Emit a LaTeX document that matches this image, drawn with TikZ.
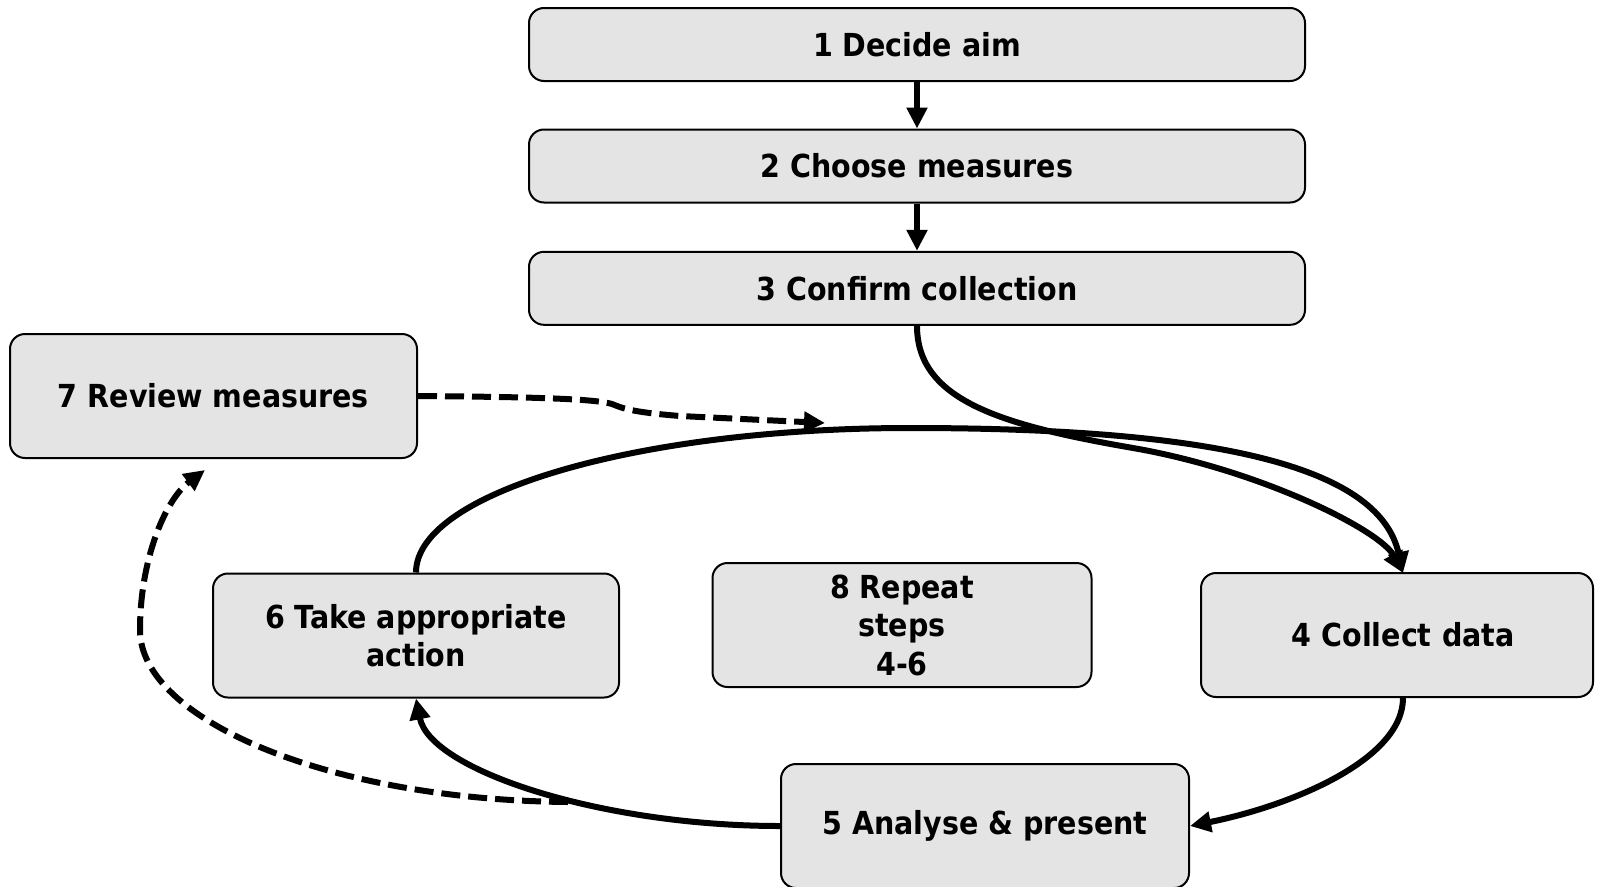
\documentclass[tikz,border=0pt]{standalone}
\usepackage{fontspec}
\IfFontExistsTF{DejaVu Sans Condensed}{%
  \setmainfont{DejaVu Sans Condensed}%
  \newcommand\boxfontsize{\fontsize{31.7}{38.5}\selectfont}}{%
  \setmainfont{DejaVu Sans}%
  \newcommand\boxfontsize{\fontsize{28.5}{38.5}\selectfont}}
\usetikzlibrary{arrows.meta}
\definecolor{boxfill}{RGB}{228,228,228}
\tikzset{
  stepbox/.style={draw=black, line width=2pt, fill=boxfill, rounded corners=15pt,
    font=\boxfontsize\bfseries, align=center, inner sep=0pt},
  widebox/.style={stepbox, minimum width=776pt, minimum height=73pt},
  flow/.style={line width=6pt, -{Triangle[length=21pt,width=20pt]}},
  dflow/.style={flow, dash pattern=on 19pt off 8pt},
}
\begin{document}
\begin{tikzpicture}[x=1pt,y=-1pt]
\useasboundingbox (0,0) rectangle (1597,886);
\node[widebox] (n1) at (917,44.5) {1 Decide aim};
\node[widebox] (n2) at (917,166) {2 Choose measures};
\node[widebox] (n3) at (917,288.3) {3 Confirm collection};
\node[stepbox, minimum width=407pt, minimum height=124pt] (n7) at (213.5,396) {7 Review measures};
\node[stepbox, minimum width=406pt, minimum height=124pt] (n6) at (416,635.5) {6 Take appropriate\\action};
\node[stepbox, minimum width=379pt, minimum height=124pt] (n8) at (902,625) {8 Repeat\\steps\\4-6};
\node[stepbox, minimum width=392pt, minimum height=124pt, text width=392pt] (n4) at (1397,635) {\hspace*{12pt}4 Collect data};
\node[stepbox, minimum width=408pt, minimum height=124pt] (n5) at (985,826) {5 Analyse \& present};

\coordinate (t4) at (1403,573);
\coordinate (d6) at (568,802);
\coordinate (e7) at (825,423);
\coordinate (a7) at (205,470);

\draw[flow] (n1.south) -- (n2.north);
\draw[flow] (n2.south) -- (n3.north);
\draw[flow] (n3.south) .. controls (917,400) and (1000,425) .. (1133,448)
  .. controls (1260,470) and (1380,530) .. (t4);
\draw[flow] (n6.north) .. controls (416,493) and (637,428) .. (910,428)
  .. controls (1230,428) and (1380,470) .. (t4);
\draw[flow] ([xshift=6pt]n4.south) .. controls (1403,760) and (1290,806) .. (n5.east);
\draw[flow] (n5.west) .. controls (600,826) and (430,770) .. (n6.south);
\draw[dflow] (d6) .. controls (330,800) and (140,720) .. (140,630)
  .. controls (140,560) and (165,500) .. (a7);
\draw[dflow] (n7.east) .. controls (540,397) and (595,399) .. (612,404)
  .. controls (622,408) and (630,412) .. (680,416) -- (e7);
\end{tikzpicture}
\end{document}
